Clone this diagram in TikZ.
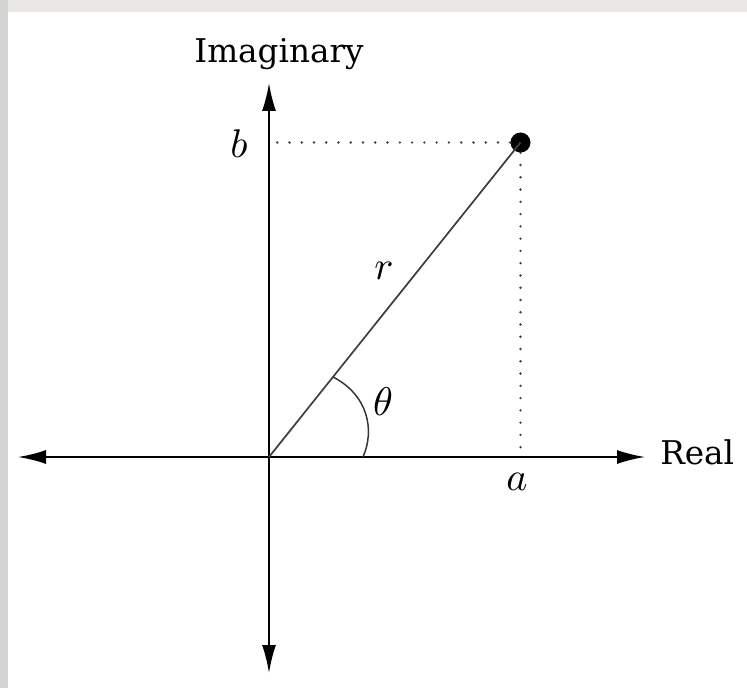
\documentclass[tikz,border=0pt]{standalone}
\usepackage{graphicx}
\usepackage{fontspec}
\newfontfamily\labelfont{DejaVu Serif}
\usetikzlibrary{arrows.meta}
\definecolor{framegray}{HTML}{E8E7E4}
\definecolor{sidegray}{HTML}{D4D4D2}
\newcommand{\bigmath}[1]{\scalebox{3}{$#1$}}
\tikzset{
  tip/.tip={Latex[length=21pt,width=10.5pt]},
  axisline/.style={line width=1.5pt, black, tip-tip},
  guide/.style={line width=2pt, black!75, line cap=round, dash pattern=on 0pt off 9.2pt},
  radius line/.style={line width=1.3pt, black!75},
  anglearc/.style={line width=1.1pt, black!80},
  wordlabel/.style={font=\labelfont\fontsize{24.5}{28}\selectfont, inner sep=0pt},
  mathlabel/.style={inner sep=0pt},
  pointdot/.style={circle, fill=black, minimum size=15pt, inner sep=0pt}
}
\begin{document}
\begin{tikzpicture}[x=0.75pt,y=-0.75pt]
\useasboundingbox (0,0) rectangle (747,688);
\fill[framegray] (0,0) rectangle (747,688);
\fill[sidegray] (0,0) rectangle (8,688);
\fill[white] (8,12) rectangle (747,688);
% coordinates
\coordinate (O) at (269,457);
\coordinate (top) at (269,83);
\coordinate (bottom) at (269,673);
\coordinate (left) at (18,457);
\coordinate (right) at (645,457);
\node[pointdot] (P) at (520.5,142.5) {};
\coordinate (Pb) at (272,142.5);
\coordinate (Pa) at (520.5,452);
% axes
\draw[axisline] (left) -- (right);
\draw[axisline] (bottom) -- (top);
% guides
\draw[guide] (P.west) -- (Pb);
\draw[guide] (P.south) -- (Pa);
% radius
\draw[radius line] (O) -- (P.center);
% angle arc
\coordinate (arcA) at (363,457);
\coordinate (arcB) at (333,377);
\draw[anglearc] (arcA) .. controls (375,430) and (368,395) .. (arcB);
% labels
\node[wordlabel, anchor=base] (imag) at (279,63) {Imaginary};
\node[wordlabel, anchor=base west] (real) at (660,464) {Real};
\node[mathlabel, anchor=base] (lb) at (239,158) {\bigmath{b}};
\node[mathlabel, anchor=base] (la) at (517,490) {\bigmath{a}};
\node[mathlabel, anchor=base] (lr) at (384,280) {\bigmath{r}};
\node[mathlabel, anchor=base] (lt) at (383,416) {\bigmath{\theta}};
\end{tikzpicture}
\end{document}
